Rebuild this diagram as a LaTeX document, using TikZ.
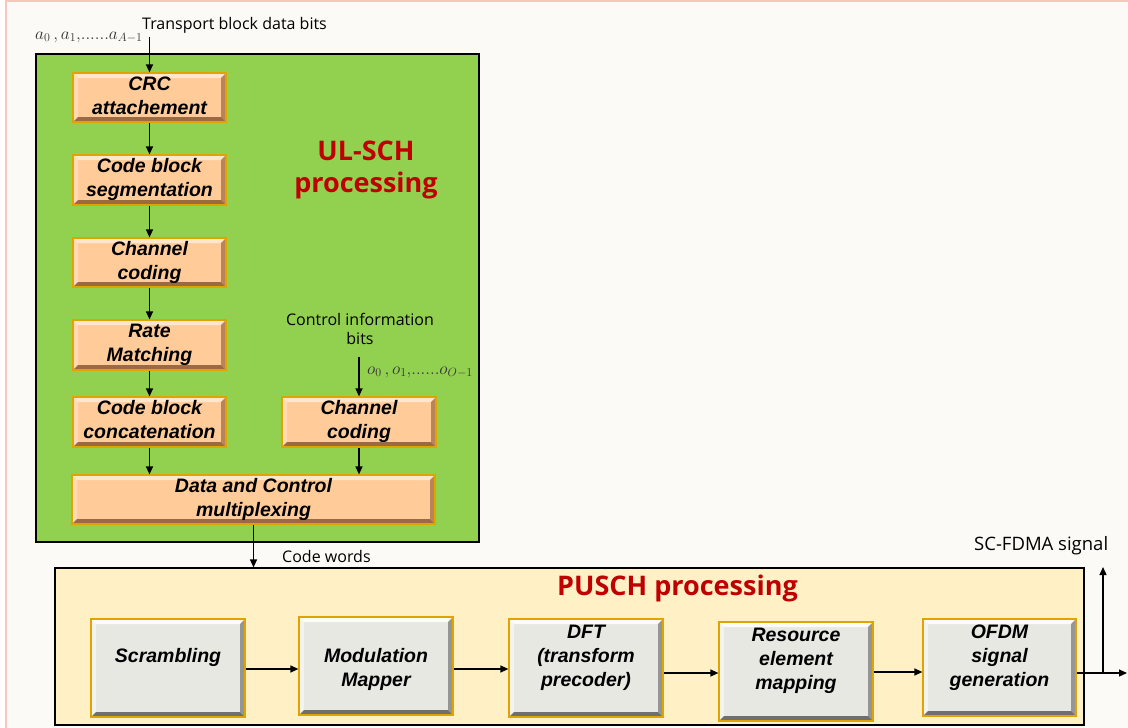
\documentclass[tikz,border=0pt]{standalone}
\usepackage{fontspec}
\setmainfont{Liberation Sans}
\newfontfamily\lblfont{Open Sans}
\usetikzlibrary{arrows.meta}

\definecolor{bgpage}{HTML}{FCFAF6}
\definecolor{pageedge}{HTML}{F6C8BC}
\definecolor{ulgreen}{HTML}{92D050}
\definecolor{puschbg}{HTML}{FFF0C6}
\definecolor{titlered}{HTML}{C00000}
\definecolor{peach}{HTML}{FFCC99}
\definecolor{peachhi}{HTML}{FFE6CC}
\definecolor{peachleft}{HTML}{FFDAB5}
\definecolor{peachlo}{HTML}{9C6A42}
\definecolor{peachside}{HTML}{B8845A}
\definecolor{goldedge}{HTML}{E0A400}
\definecolor{greyface}{HTML}{E8E8E3}
\definecolor{greyhi}{HTML}{FBFBFA}
\definecolor{greyleft}{HTML}{F3F3F0}
\definecolor{greylo}{HTML}{6F6F6F}
\definecolor{greyside}{HTML}{959595}
\definecolor{mathgrey}{HTML}{333333}

\tikzset{
  % raised-button look: four bevel strips inside the node
  bevel/.style n args={4}{path picture={
    \path (path picture bounding box.north west) coordinate (pnw)
          (path picture bounding box.south east) coordinate (pse);
    \fill[#2] (pnw) -- (pse -| pnw) -- ([shift={(5pt,5pt)}]pse -| pnw) -- ([shift={(5pt,-5pt)}]pnw) -- cycle;
    \fill[#1] (pnw) -- (pnw -| pse) -- ([shift={(-5pt,-5pt)}]pnw -| pse) -- ([shift={(5pt,-5pt)}]pnw) -- cycle;
    \fill[#4] (pnw -| pse) -- (pse) -- ([shift={(-5pt,5pt)}]pse) -- ([shift={(-5pt,-5pt)}]pnw -| pse) -- cycle;
    \fill[#3] (pse -| pnw) -- (pse) -- ([shift={(-5pt,5pt)}]pse) -- ([shift={(5pt,5pt)}]pse -| pnw) -- cycle;
  }},
  boxfont/.style={font=\fontsize{19.5}{24}\selectfont\bfseries\itshape, align=center},
  ulbox/.style={draw=goldedge, line width=1.2pt, fill=peach, inner sep=0pt,
    bevel={peachhi}{peachleft}{peachlo}{peachside}, boxfont},
  puschstep/.style={draw=goldedge, line width=1.2pt, fill=greyface, inner sep=0pt,
    minimum width=154pt, minimum height=98pt,
    bevel={greyhi}{greyleft}{greylo}{greyside}},
  steptext/.style={boxfont, inner sep=0pt},
  lbl/.style={font=\lblfont\fontsize{16}{19}\selectfont, inner sep=0pt},
  title/.style={font=\lblfont\bfseries\fontsize{27}{32}\selectfont, text=titlered, inner sep=0pt, align=center},
  mathlbl/.style={font=\fontsize{17.5}{20}\selectfont, text=mathgrey, inner sep=0pt},
  flow/.style={-{Triangle[length=8pt,width=7pt]}, line width=1.2pt},
}

\begin{document}
\begin{tikzpicture}[x=1pt,y=-1pt]
\useasboundingbox (0,0) rectangle (1128,728);
% page
\fill[white] (0,0) rectangle (1128,728);
\fill[bgpage] (6,0) rectangle (1128,728);
\draw[pageedge, line width=1.5pt] (6,728) -- (6,0.75) -- (1128,0.75);

% enclosing blocks
\node[draw=black, line width=1.2pt, fill=ulgreen, minimum width=443pt, minimum height=488pt, inner sep=0pt] (ulsch) at (257.5,298) {};
\node[draw=black, line width=1.2pt, fill=puschbg, minimum width=1029pt, minimum height=157pt, inner sep=0pt] (pusch) at (569.5,646.5) {};

\node[title] (ultitle) at (366,169.6) {\strut UL-SCH\\processing\strut};
\node[title, anchor=base] (puschtitle) at (677.5,595) {PUSCH processing};

% UL-SCH chain
\node[ulbox, minimum width=153pt, minimum height=49pt] (crc) at (149.5,97.5) {\strut CRC\\attachement\strut};
\node[ulbox, minimum width=153pt, minimum height=50pt] (cbs) at (149.5,180) {\strut Code block\\segmentation\strut};
\node[ulbox, minimum width=153pt, minimum height=49pt] (cc) at (149.5,262.5) {\strut Channel\\coding\strut};
\node[ulbox, minimum width=153pt, minimum height=50pt] (rm) at (149.5,345) {\strut Rate\\Matching\strut};
\node[ulbox, minimum width=153pt, minimum height=50pt] (cbc) at (149.5,422) {\strut Code block\\concatenation\strut};
\node[ulbox, minimum width=154pt, minimum height=50pt] (cc2) at (359,422) {\strut Channel\\coding\strut};
\node[ulbox, minimum width=363pt, minimum height=49pt] (mux) at (253.5,499.5) {\strut Data and Control\\multiplexing\strut};

% input labels
\node[lbl, anchor=base west] (tblabel) at (142,29) {Transport block data bits};
\node[mathlbl, anchor=base west] (abits) at (35,39) {$a_0\,,a_1,\!......a_{A-1}$};
\node[lbl, align=center] (ctllabel) at (360,330.7) {\strut Control information\\bits\strut};
\node[mathlbl, anchor=base west] (obits) at (367,374) {$o_0\,,o_1,\!......o_{O-1}$};
\node[lbl, anchor=base west] (cwlabel) at (282,562) {Code words};

\coordinate (tbin) at (149.5,37);
\coordinate (ctlin) at (359,357);

\draw[flow] (tbin) -- (crc.north);
\draw[flow] (crc) -- (cbs);
\draw[flow] (cbs) -- (cc);
\draw[flow] (cc) -- (rm);
\draw[flow] (rm) -- (cbc);
\draw[flow] (cbc.south) -- (cbc.south |- mux.north);
\draw[flow] (ctlin) -- (cc2.north);
\draw[flow] (cc2.south) -- (cc2.south |- mux.north);
\draw[flow] (mux.south) -- (mux.south |- pusch.north);

% PUSCH chain
\node[puschstep] (scr) at (168,668) {};
\node[puschstep] (mod) at (376,666) {};
\node[puschstep] (dft) at (586,668) {};
\node[puschstep, minimum height=99pt] (res) at (796,671.5) {};
\node[puschstep, minimum width=153pt, minimum height=97pt] (ofdm) at (999.5,667.5) {};

\node[steptext] (scr-t) at (168,657.2) {\strut Scrambling\strut};
\node[steptext] (mod-t) at (376,669.2) {\strut Modulation\\Mapper\strut};
\node[steptext] (dft-t) at (586,657.2) {\strut DFT\\(transform\\precoder)\strut};
\node[steptext] (res-t) at (796,660.2) {\strut Resource\\element\\mapping\strut};
\node[steptext] (ofdm-t) at (999.5,657.2) {\strut OFDM\\signal\\generation\strut};

\draw[flow] (scr.east |- 0,669) -- (mod.west |- 0,669);
\draw[flow] (mod.east |- 0,669) -- (dft.west |- 0,669);
\draw[flow] (dft.east |- 0,673) -- (res.west |- 0,673);
\draw[flow] (res.east |- 0,672) -- (ofdm.west |- 0,672);

\coordinate (sigout) at (1127,673);
\coordinate (tap) at (1103,673);
\coordinate (sigup) at (1103,567);
\draw[flow] (ofdm.east |- sigout) -- (sigout);
\draw[flow] (tap) -- (sigup);
\node[lbl, font=\lblfont\fontsize{18.5}{22}\selectfont, anchor=base west] (sclabel) at (974,550) {SC-FDMA signal};
\end{tikzpicture}
\end{document}
